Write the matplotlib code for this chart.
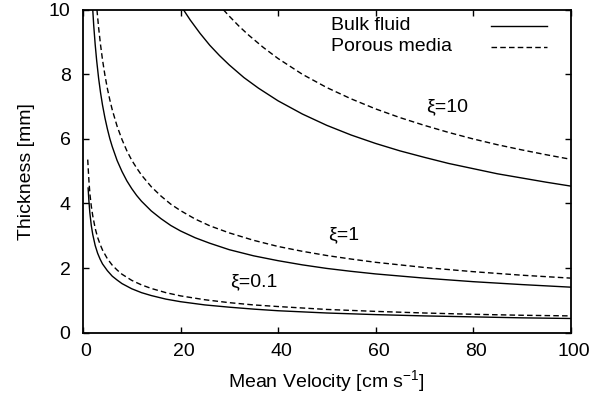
import matplotlib
matplotlib.use("Agg")
import matplotlib.pyplot as plt
from matplotlib.transforms import ScaledTranslation

plt.rcParams['font.family'] = ['Liberation Sans', 'DejaVu Sans']
plt.rcParams['mathtext.fontset'] = 'custom'
plt.rcParams['mathtext.rm'] = 'Liberation Sans'
plt.rcParams['mathtext.default'] = 'regular'

# Values (velocity in cm/s, thickness in mm)
v_b10 = [20.6, 22, 24, 26, 28, 30, 33, 36, 40, 45, 50, 55, 60, 65, 70, 75, 80, 85, 90, 95, 100]
t_b10 = [10.0, 9.68, 9.27, 8.9, 8.58, 8.29, 7.9, 7.57, 7.18, 6.77, 6.42, 6.12, 5.86, 5.63, 5.43, 5.24, 5.08, 4.92, 4.79, 4.66, 4.54]
v_p10 = [28.8, 30, 32, 34, 37, 40, 45, 50, 55, 60, 65, 70, 75, 80, 85, 90, 95, 100]
t_p10 = [10.0, 9.8, 9.49, 9.21, 8.83, 8.49, 8.0, 7.59, 7.24, 6.93, 6.66, 6.42, 6.2, 6.0, 5.82, 5.66, 5.51, 5.37]

v_b1 = [2.0, 2.2, 2.5, 2.8, 3.2, 3.6, 4, 4.5, 5, 5.5, 6, 7, 8, 9, 10, 11, 12, 14, 16, 18, 20, 23, 26, 30, 35, 40, 45, 50, 55, 60, 70, 80, 90, 100]
t_b1 = [10.0, 9.51, 8.92, 8.43, 7.88, 7.43, 7.05, 6.65, 6.31, 6.01, 5.76, 5.33, 4.99, 4.7, 4.46, 4.25, 4.07, 3.77, 3.53, 3.32, 3.15, 2.94, 2.77, 2.57, 2.38, 2.23, 2.1, 1.99, 1.9, 1.82, 1.69, 1.58, 1.49, 1.41]
v_p1 = [2.86, 3.2, 3.6, 4, 4.5, 5, 5.5, 6, 7, 8, 9, 10, 11, 12, 14, 16, 18, 20, 23, 26, 30, 35, 40, 45, 50, 55, 60, 70, 80, 90, 100]
t_p1 = [10.0, 9.45, 8.91, 8.45, 7.97, 7.56, 7.21, 6.9, 6.39, 5.98, 5.63, 5.34, 5.1, 4.88, 4.52, 4.23, 3.98, 3.78, 3.52, 3.31, 3.09, 2.86, 2.67, 2.52, 2.39, 2.28, 2.18, 2.02, 1.89, 1.78, 1.69]

v_b01 = [1.05, 1.2, 1.4, 1.7, 2, 2.5, 3, 3.5, 4, 5, 6, 7, 8, 10, 12, 14, 17, 20, 25, 30, 35, 40, 50, 60, 70, 80, 90, 100]
t_b01 = [4.48, 4.1, 3.72, 3.32, 3.04, 2.7, 2.46, 2.28, 2.13, 1.92, 1.75, 1.63, 1.52, 1.36, 1.24, 1.15, 1.04, 0.96, 0.86, 0.79, 0.73, 0.68, 0.61, 0.56, 0.52, 0.49, 0.46, 0.44]
v_p01 = [0.97, 1.1, 1.25, 1.45, 1.7, 2, 2.5, 3, 3.5, 4, 5, 6, 7, 8, 10, 12, 14, 17, 20, 25, 30, 35, 40, 50, 60, 70, 80, 90, 100]
t_p01 = [5.36, 5.0, 4.62, 4.25, 3.92, 3.62, 3.23, 2.95, 2.74, 2.56, 2.29, 2.09, 1.94, 1.81, 1.62, 1.48, 1.37, 1.24, 1.14, 1.02, 0.93, 0.86, 0.81, 0.72, 0.66, 0.61, 0.57, 0.54, 0.52]

xi_labels = ['\u03be=10', '\u03be=1', '\u03be=0.1']
xi_pos = [(74.6, 7.0), (53.4, 3.03), (35.0, 1.59)]

legend_labels = ['Bulk fluid', 'Porous media']

fig = plt.figure(figsize=(6.03, 4.04), dpi=100)
ax = fig.add_axes([83 / 603, 1 - 332.7 / 404, 487.5 / 603, 323 / 404])

LW = 1.0
dash = (0, (4.0, 2.3))
ax.plot(v_b10, t_b10, color='black', lw=LW)
ax.plot(v_p10, t_p10, color='black', lw=LW, linestyle=dash)
ax.plot(v_b1, t_b1, color='black', lw=LW)
ax.plot(v_p1, t_p1, color='black', lw=LW, linestyle=dash)
ax.plot(v_b01, t_b01, color='black', lw=LW)
ax.plot(v_p01, t_p01, color='black', lw=LW, linestyle=dash)

for lab, (x, y) in zip(xi_labels, xi_pos):
    ax.text(x, y, lab, fontsize=14, ha='center', va='center')

# gnuplot-style key: text on the left, line sample on the right
key_y = [0.950, 0.885]
key_styles = ['-', dash]
for lab, y, ls in zip(legend_labels, key_y, key_styles):
    ax.text(0.509, y, lab, transform=ax.transAxes, fontsize=14, ha='left', va='center')
    ax.plot([0.836, 0.952], [y, y], transform=ax.transAxes, color='black', lw=LW, linestyle=ls)

ax.set_xlim(0, 100)
ax.set_ylim(0, 10)
ax.set_xticks([0, 20, 40, 60, 80, 100])
ax.set_yticks([0, 2, 4, 6, 8, 10])
ax.tick_params(direction='in', top=True, right=True, labelsize=14, length=4, width=1)
ax.tick_params(axis='x', pad=7.5)
ax.tick_params(axis='y', pad=9)
for s in ax.spines.values():
    s.set_linewidth(1.3)

shift = ScaledTranslation(3 / 100, 0, fig.dpi_scale_trans)
for lbl in ax.get_xticklabels():
    lbl.set_transform(lbl.get_transform() + shift)

ax.set_xlabel('Mean Velocity [cm s$^{-1}$]', fontsize=14, labelpad=6)
ax.set_ylabel('Thickness [mm]', fontsize=14, labelpad=10)

fig.savefig('out.png', dpi=100)
